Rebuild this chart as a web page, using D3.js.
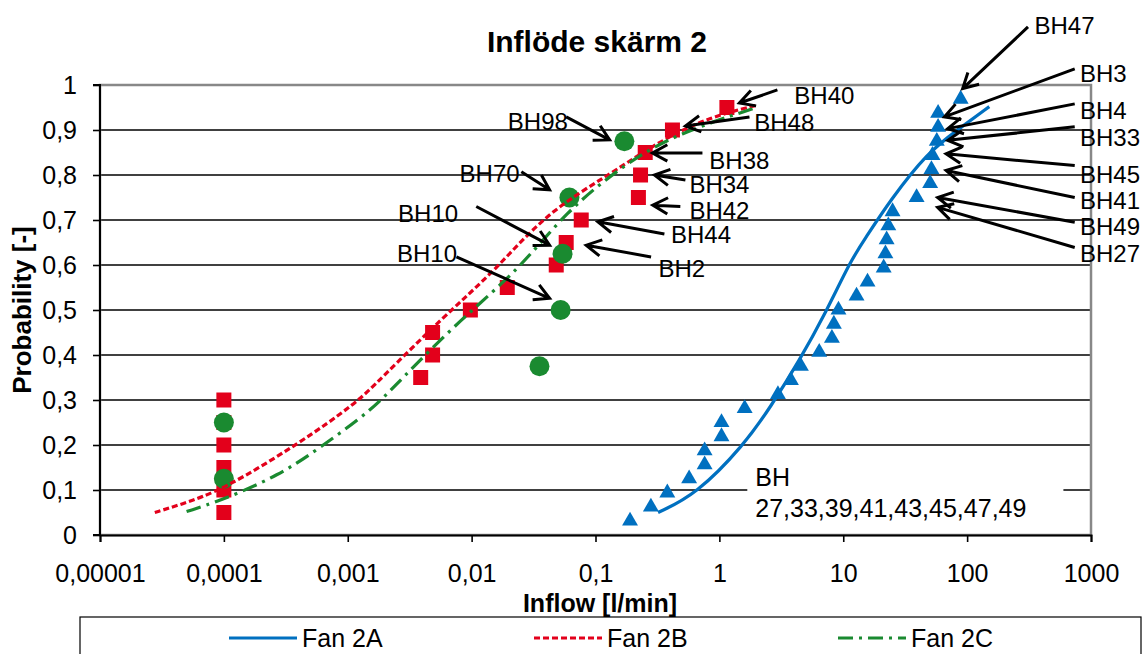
<!DOCTYPE html>
<html><head><meta charset="utf-8">
<script src="https://cdn.jsdelivr.net/npm/d3@7"></script>
<style>body{margin:0;background:#fff} text{font-family:"Liberation Sans",Arial,sans-serif;fill:#000}</style>
</head><body><svg id="c" width="1144" height="654"></svg>
<script>
// ---------- data ----------
const xTicks = [1e-5, 1e-4, 1e-3, 1e-2, 1e-1, 1, 10, 100, 1000];
const xTickLabels = ["0,00001","0,0001","0,001","0,01","0,1","1","10","100","1000"];
const yTicks = [0,0.1,0.2,0.3,0.4,0.5,0.6,0.7,0.8,0.9,1];
const yTickLabels = ["0","0,1","0,2","0,3","0,4","0,5","0,6","0,7","0,8","0,9","1"];

// measured points
const fan2AInflow = [0.19,0.28,0.38,0.57,0.76,0.76,1.04,1.04,1.6,2.97,3.78,4.55,6.4,8.1,8.4,9.15,12.8,15.7,21.2,21.9,22.4,23.1,25.0,39.1,50.3,51.5,52.5,56.9,58.3,58.3,88.7];
const fan2AProb = [0.03125,0.0625,0.09375,0.125,0.15625,0.1875,0.21875,0.25,0.28125,0.3125,0.34375,0.375,0.40625,0.4375,0.46875,0.5,0.53125,0.5625,0.59375,0.625,0.65625,0.6875,0.71875,0.75,0.78125,0.8125,0.84375,0.875,0.90625,0.9375,0.96875];
const fan2BInflow = [0.0001,0.0001,0.0001,0.0001,0.0001,0.0001,0.00388,0.00484,0.00484,0.00977,0.0194,0.0482,0.058,0.0767,0.222,0.231,0.252,0.418,1.15];
const fan2BProb = [0.05,0.1,0.15,0.2,0.25,0.3,0.35,0.4,0.45,0.5,0.55,0.6,0.65,0.7,0.75,0.8,0.85,0.9,0.95];
const fan2CInflow = [0.0001,0.0001,0.0353,0.0523,0.0542,0.0616,0.171];
const fan2CProb = [0.125,0.25,0.375,0.5,0.625,0.75,0.875];

// fitted curves
const curve2AInflow = [0.32,0.65,1.58,2.6,4.47,7.1,11.5,14.8,24.1,47.9,83.4,151];
const curve2AProb = [0.05,0.09,0.2,0.285,0.39,0.49,0.61,0.656,0.745,0.85,0.9,0.952];
const curve2BInflow = [2.77e-5,4.4e-5,9.8e-5,4.07e-4,1.17e-3,1.8e-3,5.77e-3,0.0157,0.0396,0.135,0.34,0.86,2.0];
const curve2BProb = [0.05,0.067,0.1,0.204,0.293,0.344,0.482,0.589,0.715,0.804,0.878,0.93,0.955];
const curve2CInflow = [5.0e-5,9.8e-5,2.81e-4,5.9e-4,1.57e-3,2.5e-3,8.36e-3,0.024,0.0573,0.174,0.466,1.94];
const curve2CProb = [0.052,0.078,0.133,0.193,0.278,0.337,0.482,0.589,0.718,0.826,0.893,0.949];

const seriesNames = ["Fan 2A","Fan 2B","Fan 2C"];

// annotations: text anchor, arrow start, arrow tip (data units)
const annotLabels = ["BH47","BH3","BH4","BH33","BH45","BH41","BH49","BH27","BH40","BH48","BH38","BH34","BH42","BH44","BH2","BH98","BH70","BH10","BH10"];
const annotTextX = [350,815,815,815,815,815,815,815,4.03,1.91,0.83,0.573,0.573,0.407,0.322,0.0196,0.008,0.00255,0.0025];
const annotTextP = [1.133,1.025,0.944,0.884,0.802,0.743,0.686,0.625,0.976,0.916,0.833,0.778,0.722,0.667,0.593,0.918,0.804,0.715,0.626];
const annotStartX = [310,739,739,739,739,739,739,739,2.94,1.75,0.73,0.532,0.484,0.36,0.281,0.058,0.0252,0.0109,0.00754];
const annotStartP = [1.129,1.036,0.958,0.907,0.821,0.75,0.695,0.639,0.989,0.929,0.849,0.789,0.73,0.669,0.618,0.929,0.807,0.73,0.618];
const annotTipX = [92,65.5,69.8,69.8,67.6,67.6,57.8,57.8,1.45,0.532,0.288,0.299,0.29,0.1045,0.0841,0.13,0.0426,0.0426,0.0426];
const annotTipP = [0.992,0.929,0.903,0.877,0.847,0.81,0.75,0.728,0.96,0.909,0.849,0.8,0.733,0.696,0.644,0.878,0.767,0.644,0.526];
const groupLabelLines = ["BH","27,33,39,41,43,45,47,49"];
const groupLabelX = 1.95, groupLabelP = [0.109, 0.04];

// ---------- drawing ----------
const svg = d3.select("#c");
const W = 1144, H = 654;
const L = 100, R = 1091, T = 85, B = 535;
const x = d3.scaleLog().domain([1e-5, 1e3]).range([L, R]);
const y = d3.scaleLinear().domain([0, 1]).range([B, T]);
const blue = "#0070C0", red = "#E3001B", green = "#1A8A30";
const FS = 25, AFS = 24;

svg.append("rect").attr("width", W).attr("height", H).attr("fill", "#fff");

// gridlines
svg.append("g").selectAll("line").data(yTicks.filter(d => d > 0 && d < 1)).join("line")
  .attr("x1", L).attr("x2", R).attr("y1", d => y(d)).attr("y2", d => y(d))
  .attr("stroke", "#000").attr("stroke-width", 1.6);

// plot frame
svg.append("rect").attr("x", L).attr("y", T).attr("width", R - L).attr("height", B - T)
  .attr("fill", "none").attr("stroke", "#888").attr("stroke-width", 2.5);

// axes
const yAxis = d3.axisLeft(y).tickValues(yTicks).tickFormat((d, i) => yTickLabels[i]).tickSize(7).tickPadding(16);
const gy = svg.append("g").attr("transform", `translate(${L},0)`).call(yAxis);
const xAxis = d3.axisBottom(x).tickValues(xTicks).tickFormat((d, i) => xTickLabels[i]).tickSize(7).tickPadding(22);
const gx = svg.append("g").attr("transform", `translate(0,${B})`).call(xAxis);
[gx, gy].forEach(g => {
  g.select(".domain").attr("stroke", "#000").attr("stroke-width", 2);
  g.selectAll(".tick line").attr("stroke", "#000").attr("stroke-width", 1.6);
  g.selectAll(".tick text").style("font-family", '"Liberation Sans",Arial,sans-serif').style("font-size", FS + "px").attr("fill", "#000");
});
gy.select(".domain").attr("d", `M-7,${B}H0V${T}H-7`);

// group label white box
const gl = svg.append("g");
const glText = gl.append("text").attr("x", x(groupLabelX)).style("font-size", FS + "px");
groupLabelLines.forEach((s, i) => glText.append("tspan").attr("x", x(groupLabelX)).attr("y", y(groupLabelP[i])).text(s));
const bb = glText.node().getBBox();
gl.insert("rect", "text").attr("x", bb.x - 8).attr("y", bb.y).attr("width", bb.width + 45).attr("height", bb.height)
  .attr("fill", "#fff");

// markers
const tri = d3.symbol().type(d3.symbolTriangle).size(110);
svg.append("g").selectAll("path").data(fan2AInflow.map((v, i) => [v, fan2AProb[i]])).join("path")
  .attr("d", tri).attr("transform", d => `translate(${x(d[0])},${y(d[1])})`).attr("fill", blue);
svg.append("g").selectAll("rect").data(fan2BInflow.map((v, i) => [v, fan2BProb[i]])).join("rect")
  .attr("x", d => x(d[0]) - 7.5).attr("y", d => y(d[1]) - 7.5).attr("width", 15).attr("height", 15).attr("fill", red);
svg.append("g").selectAll("circle").data(fan2CInflow.map((v, i) => [v, fan2CProb[i]])).join("circle")
  .attr("cx", d => x(d[0])).attr("cy", d => y(d[1])).attr("r", 10).attr("fill", green);

// curves
const line = d3.line().x(d => x(d[0])).y(d => y(d[1])).curve(d3.curveBasis);
const curves = [
  {xs: curve2AInflow, ps: curve2AProb, color: blue, dash: null},
  {xs: curve2BInflow, ps: curve2BProb, color: red, dash: "6,3"},
  {xs: curve2CInflow, ps: curve2CProb, color: green, dash: "15,6,3,6"}
];
curves.forEach(c => {
  svg.append("path").datum(c.xs.map((v, i) => [v, c.ps[i]])).attr("d", line)
    .attr("fill", "none").attr("stroke", c.color).attr("stroke-width", 3.2)
    .attr("stroke-dasharray", c.dash);
});

// annotations
const ag = svg.append("g");
annotLabels.forEach((lab, i) => {
  const x1 = x(annotStartX[i]), y1 = y(annotStartP[i]);
  const x2 = x(annotTipX[i]), y2 = y(annotTipP[i]);
  const a = Math.atan2(y1 - y2, x1 - x2), len = 17, sp = 0.5;
  const w1 = [x2 + len * Math.cos(a + sp), y2 + len * Math.sin(a + sp)];
  const w2 = [x2 + len * Math.cos(a - sp), y2 + len * Math.sin(a - sp)];
  ag.append("path").attr("d", `M${x1},${y1}L${x2},${y2}M${w1[0]},${w1[1]}L${x2},${y2}L${w2[0]},${w2[1]}`)
    .attr("fill", "none").attr("stroke", "#000").attr("stroke-width", 3);
  ag.append("text").attr("x", x(annotTextX[i])).attr("y", y(annotTextP[i])).attr("dy", "0.35em")
    .style("font-size", AFS + "px").text(lab);
});

// title & axis titles
svg.append("text").attr("x", 597).attr("y", 52).attr("text-anchor", "middle")
  .style("font-size", "30px").style("font-weight", "bold").text("Inflöde skärm 2");
svg.append("text").attr("x", 600).attr("y", 612).attr("text-anchor", "middle")
  .style("font-size", "25px").style("font-weight", "bold").text("Inflow [l/min]");
svg.append("text").attr("transform", "translate(31,310) rotate(-90)").attr("text-anchor", "middle")
  .style("font-size", "26px").style("font-weight", "bold").text("Probability [-]");

// legend
svg.append("rect").attr("x", 80).attr("y", 617).attr("width", 1061).attr("height", 60)
  .attr("fill", "#fff").attr("stroke", "#000").attr("stroke-width", 1.2);
const legX = [229, 534, 838];
seriesNames.forEach((n, i) => {
  const c = curves[i];
  svg.append("line").attr("x1", legX[i]).attr("x2", legX[i] + 68).attr("y1", 638).attr("y2", 638)
    .attr("stroke", c.color).attr("stroke-width", 3).attr("stroke-dasharray", c.dash);
  svg.append("text").attr("x", legX[i] + 73).attr("y", 638).attr("dy", "0.35em")
    .style("font-size", FS + "px").text(n);
});
</script></body></html>
